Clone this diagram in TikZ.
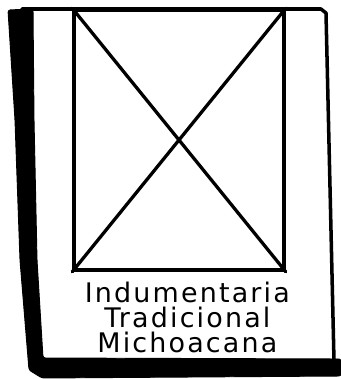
\documentclass[tikz,border=0pt]{standalone}
\usepackage{fontspec}
\newfontfamily\handfont[LetterSpace=8]{DejaVu Sans}
\usetikzlibrary{positioning}
\tikzset{
  pen/.style={line width=3pt,line cap=round,line join=round},
  shadowfill/.style={fill=black,draw=black,line width=0.8pt,line join=round,
    rounded corners=2pt},
  photobox/.style={pen,draw,minimum width=6.3cm,minimum height=7.8cm,
    inner sep=0pt},
  photocross/.style={line width=2.8pt,line cap=round},
  captiontxt/.style={align=center,inner sep=0pt,
    font=\handfont\fontsize{23}{21.5}\selectfont},
}

\begin{document}
\begin{tikzpicture}[x=0.03cm,y=-0.03cm]
  \useasboundingbox (0,0) rectangle (341,379);
  % card with its heavy shadow
  \fill[shadowfill] (8,10) -- (33,9) -- (34,120) -- (37,260) -- (43,358)
    -- (341,359) -- (341,376) -- (42,378) -- (29,370) -- (20,260)
    -- (15,120) -- cycle;
  \draw[pen] (22,9) -- (321,9) -- (326,13) -- (334,361);
  % image placeholder
  \node[photobox] (photo) at (179,140) {};
  \draw[photocross] (photo.north west) -- (photo.south east);
  \draw[photocross] (photo.south west) -- (photo.north east);
  \node[captiontxt,below=3mm of photo,xshift=2.5mm] (caption)
    {Indumentaria\\Tradicional\\Michoacana};
\end{tikzpicture}
\end{document}
